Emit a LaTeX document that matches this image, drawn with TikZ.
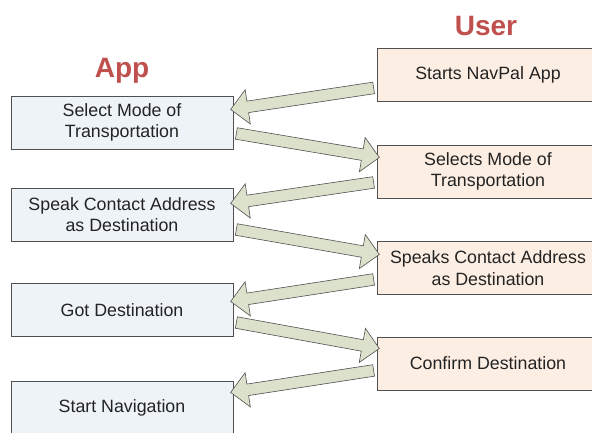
\documentclass[tikz,border=0pt]{standalone}
\usepackage{fontspec}
\setmainfont{Liberation Sans}
\usetikzlibrary{shapes.arrows,calc}

\definecolor{appfill}{RGB}{238,243,248}
\definecolor{userfill}{RGB}{253,238,227}
\definecolor{arrowfill}{RGB}{220,225,204}
\definecolor{titlered}{RGB}{192,80,77}
\definecolor{edgegray}{RGB}{80,80,80}
\definecolor{textgray}{RGB}{35,35,35}

\tikzset{
  stepbox/.style={draw=edgegray, line width=1pt, minimum width=222pt, minimum height=53pt,
    inner sep=0pt, align=center, text=textgray, font=\fontsize{17.8}{21.5}\selectfont},
  appbox/.style={stepbox, fill=appfill},
  userbox/.style={stepbox, fill=userfill},
  heading/.style={text=titlered, font=\fontsize{28}{32}\selectfont\bfseries, anchor=base},
  flowarrow/.style={single arrow, draw=edgegray, fill=arrowfill, line width=0.6pt,
    single arrow head extend=11.5pt, single arrow tip angle=90,
    inner xsep=0pt, inner ysep=5.5pt, outer sep=0pt}
}

% block arrow from #1 to #2
\newcommand{\flowlink}[2]{%
  \path let \p1=(#1), \p2=(#2), \n1={atan2(\y2-\y1,\x2-\x1)}, \n2={veclen(\x2-\x1,\y2-\y1)} in
    node[flowarrow, minimum height=\n2, rotate=\n1] at ($(\p1)!0.5!(\p2)$) {};}

\begin{document}
\begin{tikzpicture}[x=1pt, y=-1pt]
  \useasboundingbox (0,0) rectangle (592,432);

  % headings
  \node[heading] (app) at (122,77) {App};
  \node[heading] (user) at (486,35) {User};

  % app side
  \node[appbox] (a1) at (122,122.5) {Select Mode of\\Transportation};
  \node[appbox] (a2) at (122,214.5) {Speak Contact Address\\as Destination};
  \node[appbox] (a3) at (122,310) {Got Destination};
  \node[appbox] (a4) at (122,408) {Start Navigation};

  % user side
  \node[userbox] (u1) at (488,74.5) {Starts NavPal App};
  \node[userbox] (u2) at (488,171.5) {Selects Mode of\\Transportation};
  \node[userbox] (u3) at (488,268) {Speaks Contact Address\\as Destination};
  \node[userbox] (u4) at (488,363.5) {Confirm Destination};

  % arrows
  \flowlink{$(u1.west)+(0,13)$}{$(a1.east)+(0,-13.5)$}
  \flowlink{$(a1.east)+(0,10.5)$}{$(u2.west)+(0,-14.5)$}
  \flowlink{$(u2.west)+(0,10.5)$}{$(a2.east)+(0,-11.5)$}
  \flowlink{$(a2.east)+(0,14.5)$}{$(u3.west)+(0,-14)$}
  \flowlink{$(u3.west)+(0,11)$}{$(a3.east)+(0,-9)$}
  \flowlink{$(a3.east)+(0,12)$}{$(u4.west)+(0,-15.5)$}
  \flowlink{$(u4.west)+(0,6.5)$}{$(a4.east)+(0,-16)$}
\end{tikzpicture}
\end{document}
